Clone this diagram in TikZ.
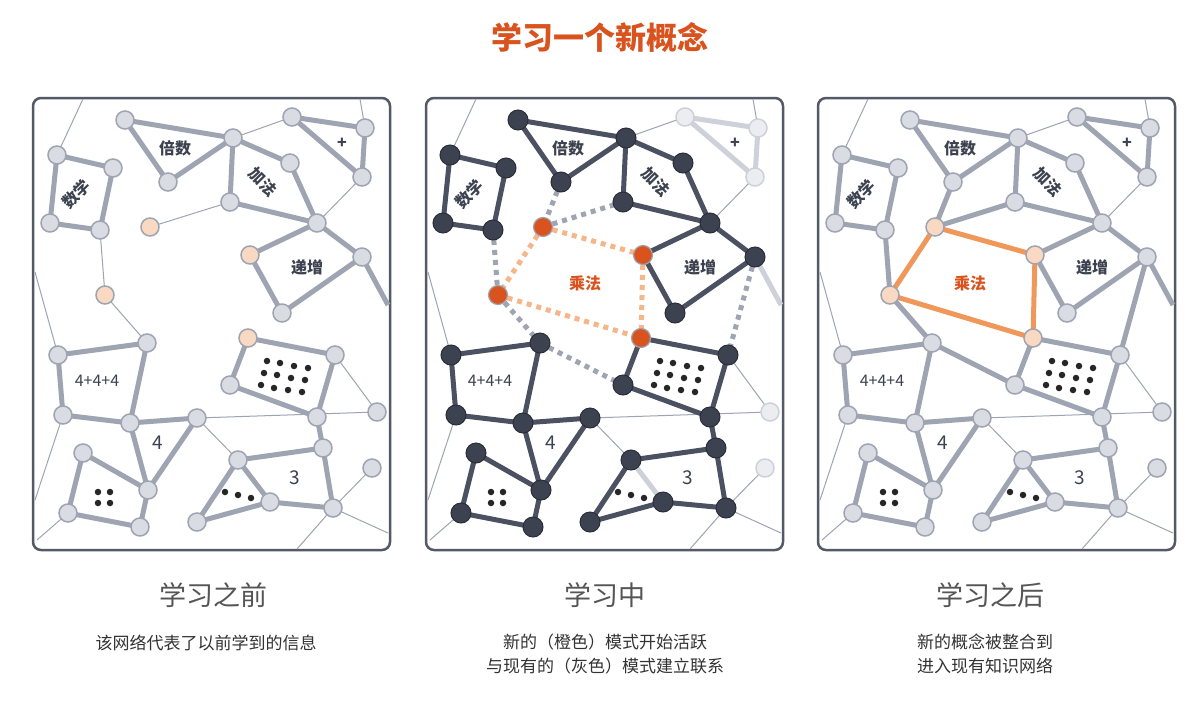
\documentclass[tikz,border=0pt]{standalone}
\usepackage{fontspec}
\setmainfont{Noto Sans CJK SC}
\begin{document}
\begin{tikzpicture}[x=1pt,y=-1pt]
\definecolor{lg}{HTML}{D9DCE3}
\definecolor{lgd}{HTML}{9EA4B2}
\definecolor{dk}{HTML}{3D4250}
\definecolor{dke}{HTML}{4C5161}
\definecolor{org}{HTML}{D9531E}
\definecolor{orl}{HTML}{FAD9C2}
\definecolor{ore}{HTML}{F0975A}
\definecolor{ord}{HTML}{F5B68A}
\definecolor{frame}{HTML}{545966}
\definecolor{cap}{HTML}{555555}
\tikzset{
 thk/.style={draw=lgd,line width=5pt},
 thkl/.style={draw=lgd!50,line width=5pt},
 thkd/.style={draw=dke,line width=5pt},
 thn/.style={draw=lgd,line width=1pt},
 dgrey/.style={draw=lgd,line width=5pt,dash pattern=on 5pt off 5pt},
 dorg/.style={draw=ord,line width=5pt,dash pattern=on 5pt off 5pt},
 sorg/.style={draw=ore,line width=5pt},
 ln/.style={circle,minimum size=18pt,inner sep=0pt,fill=lg,draw=lgd,line width=1.5pt},
 lnl/.style={circle,minimum size=18pt,inner sep=0pt,fill=lg!50,draw=lgd!50,line width=1.5pt},
 dn/.style={circle,minimum size=20pt,inner sep=0pt,fill=dk,draw=dk!70!black,line width=1pt},
 on/.style={circle,minimum size=18pt,inner sep=0pt,fill=orl,draw=lgd,line width=1.5pt},
 odn/.style={circle,minimum size=19pt,inner sep=0pt,fill=org,draw=lgd,line width=1.2pt},
 lab/.style={font=\fontsize{16}{16}\selectfont\bfseries,text=dk,inner sep=0pt},
 dot/.style={circle,fill=black!85,minimum size=6.5pt,inner sep=0pt},
 box/.style={draw=frame,line width=2.5pt,rounded corners=8pt},
 captxt/.style={font=\fontsize{27}{27}\selectfont,text=cap},
 subtxt/.style={font=\fontsize{17}{24}\selectfont,text=black!80,align=center}
}
\useasboundingbox (0,0) rectangle (1200,713);
\fill[white] (0,0) rectangle (1200,713);
\node[font=\fontsize{31}{31}\selectfont\bfseries,text=org] (title) at (600,38) {学习一个新概念};
\newcommand\mkc[1]{%
\foreach \n/\x/\y in {A1/125/120,A2/233/138,A3/168/182,N1/57/155,N2/113/168,N3/50/223,N4/100/230,O1/150/227,A4/230/202,A5/290/163,A6/317/223,P1/292/117,P2/365/128,P3/362/177,O2/250/255,D1/362/257,D2/282/313,O3/105/295,F1/58/355,F2/147/343,F3/63/415,F4/130/423,O4/248/338,G1/335/355,G2/230/385,G3/317/417,G4/377/412,H1/197/418,Q1/83/453,Q2/148/490,Q3/68/513,Q4/140/527,T1/238/460,T2/323/448,T3/270/502,T4/333/508,T5/197/522,R1/372/468,e1/83/99,e2/360/99,e3/35/272,e4/35/500,e5/37/540,e6/297/549,e7/388/533,e8/388/305}{\coordinate (#1\n) at (\x,\y);}}
\newcommand\common[3]{% prefix, thick style, plus-group style
\foreach \a/\b in {A2/P1,P3/A6,N1/e1,P2/e2,F1/e3,F3/e4,Q3/e5,T4/e6,T4/e7,R1/T4,H1/G4,G1/G4,H1/T1}{\draw[thn] (#1\a) -- (#1\b);}
\foreach \a/\b in {A1/A2,A1/A3,A3/A2,A2/A4,A2/A5,A4/A6,A5/A6,N1/N2,N2/N4,N4/N3,N3/N1,A6/O2,O2/D2,D2/D1,D1/A6,F1/F2,F2/F4,F4/F3,F3/F1,F4/H1,H1/Q2,F4/Q2,Q1/Q2,Q1/Q3,Q3/Q4,Q4/Q2,O4/G1,O4/G2,G2/G3,G3/G1,T1/T2,T2/T4,T4/T3,T1/T5,T5/T3,G3/T2}{\draw[#2] (#1\a) -- (#1\b);}
\foreach \a/\b in {P1/P2,P2/P3,P3/P1,T1/T3,D1/e8}{\draw[#3] (#1\a) -- (#1\b);}
}
\newcommand\labels[1]{%
\node[lab] (#1l1) at (175,148) {倍数};
\node[lab,rotate=45] (#1l2) at (76,194) {数学};
\node[lab,rotate=-45] (#1l3) at (263,182) {加法};
\node[lab] (#1l4) at (342,143) {+};
\node[lab] (#1l5) at (307,267) {递增};
\node[lab,font=\fontsize{16}{16}\selectfont] (#1l6) at (97,381) {4+4+4};
\node[lab,font=\fontsize{19}{19}\selectfont] (#1l7) at (158,443) {4};
\node[lab,font=\fontsize{19}{19}\selectfont] (#1l8) at (295,478) {3};
\foreach \i/\x/\y in {1/267/361,2/280/363,3/294/366,4/308/368,5/264/373,6/277/375,7/291/378,8/305/380,9/261/385,10/274/388,11/288/390,12/302/392}{\node[dot] (#1d\i) at (\x,\y) {};}
\foreach \i/\x/\y in {1/98/492,2/110/492,3/98/503,4/110/503}{\node[dot] (#1q\i) at (\x,\y) {};}
\foreach \i/\x/\y in {1/225/492,2/238/495,3/251/498}{\node[dot] (#1t\i) at (\x,\y) {};}
}
\newcommand\nodesall[3]{% prefix, main style, light style
\foreach \n in {A1,A2,A3,N1,N2,N3,N4,A4,A5,A6,D1,D2,F1,F2,F3,F4,G1,G2,G3,H1,Q1,Q2,Q3,Q4,T1,T2,T3,T4,T5}{\node[#2] (#1n\n) at (#1\n) {};}
\foreach \n in {P1,P2,P3,G4,R1}{\node[#3] (#1n\n) at (#1\n) {};}
}
% ---------- panel 1
\begin{scope}
\mkc{a}
\draw[box] (33,98) rectangle (390,550);
\common{a}{thk}{thk}
\foreach \a/\b in {O1/A4,N4/O3,O3/F2}{\draw[thn] (a\a) -- (a\b);}
\labels{a}
\nodesall{a}{ln}{ln}
\foreach \n in {O1,O2,O3,O4}{\node[on] (an\n) at (a\n) {};}
\end{scope}
% ---------- panel 2
\begin{scope}[xshift=393pt]
\mkc{b}
\draw[box] (33,98) rectangle (390,550);
\common{b}{thkd}{thkl}
\foreach \a/\b in {A3/O1,O1/A4,N4/O3,O3/F2,F2/G2,D1/G1}{\draw[dgrey] (b\a) -- (b\b);}
\foreach \a/\b in {O1/O2,O1/O3,O3/O4,O2/O4}{\draw[dorg] (b\a) -- (b\b);}
\labels{b}
\node[font=\fontsize{16}{16}\selectfont\bfseries,text=org] (bmul) at (192,283) {乘法};
\nodesall{b}{dn}{lnl}
\foreach \n in {O1,O2,O3,O4}{\node[odn] (bn\n) at (b\n) {};}
\end{scope}
% ---------- panel 3
\begin{scope}[xshift=785pt]
\mkc{c}
\draw[box] (33,98) rectangle (390,550);
\common{c}{thk}{thk}
\foreach \a/\b in {A3/O1,O1/A4,N4/O3,O3/F2,F2/G2,D1/G1}{\draw[thk] (c\a) -- (c\b);}
\foreach \a/\b in {O1/O2,O2/O4,O4/O3,O3/O1}{\draw[sorg] (c\a) -- (c\b);}
\labels{c}
\node[font=\fontsize{16}{16}\selectfont\bfseries,text=org] (cmul) at (185,283) {乘法};
\nodesall{c}{ln}{ln}
\foreach \n in {O1,O2,O3,O4}{\node[on] (cn\n) at (c\n) {};}
\end{scope}
% ---------- captions
\node[captxt] (c1) at (213,595) {学习之前};
\node[captxt] (c2) at (605,595) {学习中};
\node[captxt] (c3) at (990,595) {学习之后};
\node[subtxt] (s1) at (206,643) {该网络代表了以前学到的信息};
\node[subtxt] (s2) at (605,654) {新的（橙色）模式开始活跃\\与现有的（灰色）模式建立联系};
\node[subtxt] (s3) at (985,654) {新的概念被整合到\\进入现有知识网络};
\end{tikzpicture}
\end{document}
